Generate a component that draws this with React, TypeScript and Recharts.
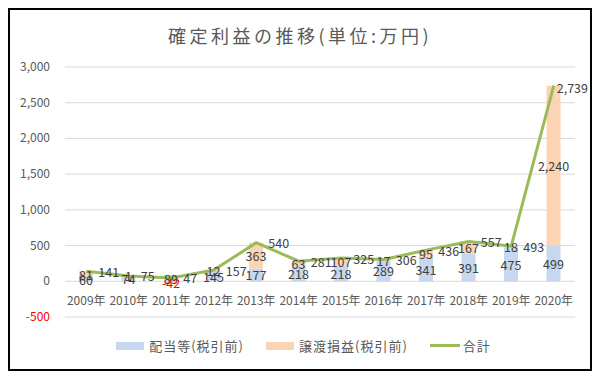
import React from 'react';
import {
  ComposedChart,
  Bar,
  Line,
  XAxis,
  YAxis,
  CartesianGrid,
  Legend,
  LabelList,
} from 'recharts';

const years = ['2009年', '2010年', '2011年', '2012年', '2013年', '2014年', '2015年', '2016年', '2017年', '2018年', '2019年', '2020年'];
const dividends = [60, 74, 89, 145, 177, 218, 218, 289, 341, 391, 475, 499];
const gains = [81, 1, -42, 12, 363, 63, 107, 17, 95, 167, 18, 2240];
const totals = [141, 75, 47, 157, 540, 281, 325, 306, 436, 557, 493, 2739];
const yTicks = [-500, 0, 500, 1000, 1500, 2000, 2500, 3000];
const seriesNames = ['配当等(税引前)', '譲渡損益(税引前)', '合計'];

const data = years.map((year, i) => ({
  year,
  dividend: dividends[i],
  gain: gains[i],
  total: totals[i],
}));

const FONT = '"Noto Sans CJK JP", "Noto Sans", sans-serif';
const GREY = '#595959';
const LABEL = '#404040';
const PLOT_H = 250;

const YTick = ({ x, y, payload }: any) => (
  <text
    x={x}
    y={y}
    dy={4}
    textAnchor="end"
    fontSize={12}
    fontFamily={FONT}
    fill={payload.value < 0 ? '#FF0000' : GREY}
  >
    {payload.value.toLocaleString('en-US')}
  </text>
);

// 年ラベルは0の線の下に置く (Excel と同じ)
const XTick = ({ x, y, payload }: any) => {
  const zeroY = y - (PLOT_H * 500) / 3500;
  return (
    <text
      x={x}
      y={zeroY + 18}
      textAnchor="middle"
      dominantBaseline="central"
      fontSize={12}
      fontFamily={FONT}
      fill={GREY}
    >
      {payload.value}
    </text>
  );
};

const BarLabel = (props: any) => {
  const { x, y, width, height, value } = props;
  return (
    <text
      x={x + width / 2}
      y={y + height / 2}
      textAnchor="middle"
      dominantBaseline="central"
      fontSize={12.5}
      fontFamily={FONT}
      fill={value < 0 ? '#FF0000' : LABEL}
    >
      {value.toLocaleString('en-US')}
    </text>
  );
};

const LineLabel = (props: any) => {
  const { x, y, value, index } = props;
  // 最後の点はグラフ枠に収まるように寄せる
  const last = index === totals.length - 1;
  return (
    <text
      x={x + (last ? 3 : 12)}
      y={y + (last ? 2 : 0)}
      textAnchor="start"
      dominantBaseline="central"
      fontSize={12.5}
      fontFamily={FONT}
      fill={LABEL}
    >
      {value.toLocaleString('en-US')}
    </text>
  );
};

const LegendContent = ({ payload }: any) => {
  const items = [...(payload || [])].sort(
    (a: any, b: any) => seriesNames.indexOf(a.value) - seriesNames.indexOf(b.value)
  );
  return (
    <div
      style={{
        display: 'flex',
        justifyContent: 'center',
        alignItems: 'center',
        gap: 22,
        paddingLeft: 22,
        fontFamily: FONT,
        fontSize: 13,
        letterSpacing: 1,
        color: GREY,
      }}
    >
      {items.map((item: any) => (
        <div key={item.value} style={{ display: 'flex', alignItems: 'center' }}>
          {item.type === 'line' ? (
            <span style={{ display: 'inline-block', width: 30, height: 3, background: item.color, marginRight: 3 }} />
          ) : (
            <span style={{ display: 'inline-block', width: 28, height: 8, background: item.color, marginRight: 5 }} />
          )}
          <span>{item.value}</span>
        </div>
      ))}
    </div>
  );
};

export default function App() {
  return (
    <div
      style={{
        position: 'relative',
        width: 584,
        height: 363,
        border: '2px solid #000',
        boxSizing: 'border-box',
        background: '#fff',
      }}
    >
      <div
        style={{
          position: 'absolute',
          top: 12,
          left: 0,
          width: '100%',
          textAlign: 'center',
          fontFamily: FONT,
          fontSize: 18,
          letterSpacing: 3.5,
          color: GREY,
        }}
      >
        確定利益の推移(単位:万円)
      </div>
      <ComposedChart
        width={580}
        height={359}
        data={data}
        stackOffset="sign"
        margin={{ top: 57, right: 15, left: 0, bottom: 3 }}
      >
        <CartesianGrid vertical={false} stroke="#D9D9D9" />
        <XAxis
          dataKey="year"
          axisLine={false}
          tickLine={false}
          tickSize={0}
          tickMargin={0}
          height={19}
          interval={0}
          tick={<XTick />}
        />
        <YAxis
          domain={[-500, 3000]}
          ticks={yTicks}
          width={55}
          axisLine={false}
          tickLine={false}
          tickSize={0}
          tickMargin={15}
          tick={<YTick />}
        />
        <Legend verticalAlign="bottom" height={30} content={<LegendContent />} />
        <Bar dataKey="dividend" name={seriesNames[0]} stackId="a" fill="#C6D7EF" barSize={14} isAnimationActive={false}>
          <LabelList dataKey="dividend" content={<BarLabel />} />
        </Bar>
        <Bar dataKey="gain" name={seriesNames[1]} stackId="a" fill="#FBD4B4" barSize={14} isAnimationActive={false}>
          <LabelList dataKey="gain" content={<BarLabel />} />
        </Bar>
        <Line
          type="linear"
          dataKey="total"
          name={seriesNames[2]}
          stroke="#9BBB59"
          strokeWidth={3}
          dot={false}
          legendType="line"
          isAnimationActive={false}
        >
          <LabelList dataKey="total" content={<LineLabel />} />
        </Line>
      </ComposedChart>
    </div>
  );
}
